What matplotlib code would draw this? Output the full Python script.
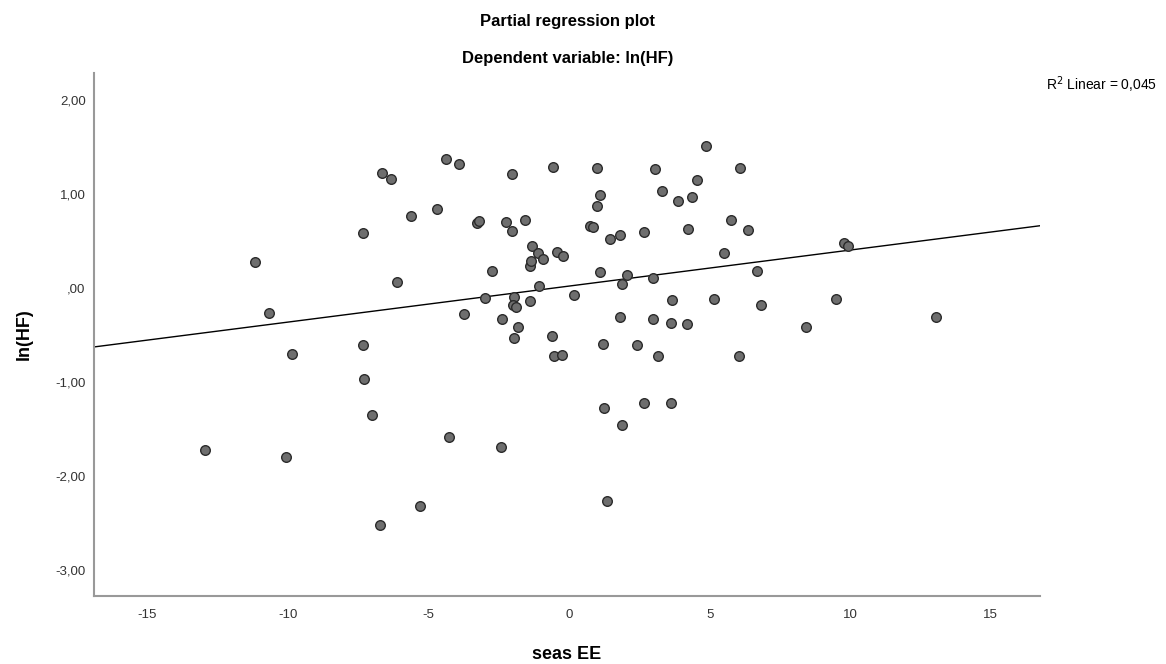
import numpy as np
import matplotlib.pyplot as plt

plt.rcParams['font.family'] = ['Liberation Sans', 'DejaVu Sans']

# partial residuals
seas_ee = [-12.94, -11.16, -10.67, -10.06, -9.85, -7.32, -7.32, -7.29, -7.00, -6.72,
           -6.65, -6.33, -6.11, -5.62, -5.30, -4.69, -4.37, -4.27, -3.91, -3.73,
           -3.27, -3.20, -2.99, -2.74, -2.42, -2.38, -2.24, -2.03, -2.03, -1.96,
           -1.99, -1.88, -1.96, -1.81, -1.56, -1.32, -1.39, -1.35, -1.39, -1.10,
           -1.07, -0.92, -0.60, -0.57, -0.53, -0.43, -0.25, -0.21, 0.18, 0.75,
           0.85, 1.00, 1.00, 1.10, 1.10, 1.21, 1.24, 1.35, 1.46, 1.81,
           1.81, 1.88, 1.88, 2.06, 2.42, 2.67, 2.67, 2.99, 2.99, 3.06,
           3.16, 3.31, 3.63, 3.66, 3.63, 3.87, 4.23, 4.19, 4.37, 4.55,
           4.87, 5.15, 5.51, 5.76, 6.08, 6.04, 6.36, 6.68, 6.83, 8.43,
           9.49, 9.78, 9.92, 13.05]
ln_hf = [-1.73, 0.28, -0.27, -1.80, -0.70, 0.59, -0.61, -0.97, -1.35, -2.52,
         1.23, 1.16, 0.06, 0.77, -2.32, 0.84, 1.37, -1.59, 1.32, -0.28,
         0.69, 0.71, -0.11, 0.18, -1.69, -0.33, 0.70, 0.61, 1.22, -0.10,
         -0.18, -0.20, -0.53, -0.41, 0.72, 0.45, 0.23, 0.29, -0.14, 0.37,
         0.02, 0.31, -0.51, 1.29, -0.72, 0.38, -0.71, 0.34, -0.07, 0.66,
         0.65, 1.28, 0.87, 0.99, 0.17, -0.60, -1.28, -2.27, 0.52, 0.56,
         -0.31, 0.04, -1.46, 0.14, -0.61, 0.60, -1.22, 0.11, -0.33, 1.27,
         -0.72, 1.03, -0.37, -0.13, -1.22, 0.93, 0.63, -0.38, 0.97, 1.15,
         1.51, -0.12, 0.37, 0.72, 1.28, -0.72, 0.62, 0.18, -0.18, -0.41,
         -0.12, 0.48, 0.45, -0.31]

x_ticks = [-15, -10, -5, 0, 5, 10, 15]
y_ticks = [2, 1, 0, -1, -2, -3]
y_tick_labels = ['2,00', '1,00', ',00', '-1,00', '-2,00', '-3,00']
r2_text = 'R$^2$ Linear = 0,045'

x = np.array(seas_ee)
y = np.array(ln_hf)
slope, intercept = np.polyfit(x, y, 1)

fig = plt.figure(figsize=(11.66, 6.64), dpi=100)
ax = fig.add_axes([0.0806, 0.1024, 0.8113, 0.7876])

xlim = (-16.9, 16.75)
ax.set_xlim(*xlim)
ax.set_ylim(-3.28, 2.29)

xs = np.array(xlim)
ax.plot(xs, intercept + slope * xs, color='black', lw=1.0, zorder=2)
ax.scatter(x, y, s=48, facecolor='#6e6e6e', edgecolor='#2b2b2b', linewidth=1.0, zorder=3)

ax.set_xticks(x_ticks)
ax.set_xticklabels([str(t) for t in x_ticks])
ax.set_yticks(y_ticks)
ax.set_yticklabels(y_tick_labels)
ax.tick_params(length=0, labelsize=9.5, colors='#333333')
ax.tick_params(axis='x', pad=9)
ax.tick_params(axis='y', pad=6)

for side in ['top', 'right']:
    ax.spines[side].set_visible(False)
for side in ['left', 'bottom']:
    ax.spines[side].set_color('#999999')
    ax.spines[side].set_linewidth(1.5)

ax.set_xlabel('seas EE', fontsize=13, fontweight='bold', labelpad=18)
ax.set_ylabel('ln(HF)', fontsize=13, fontweight='bold', labelpad=16)

fig.text(0.487, 0.968, 'Partial regression plot', ha='center', va='center',
         fontsize=12, fontweight='bold')
fig.text(0.487, 0.912, 'Dependent variable: ln(HF)', ha='center', va='center',
         fontsize=12, fontweight='bold')
fig.text(0.992, 0.872, r2_text, ha='right', va='center', fontsize=10)

fig.savefig('out.png', dpi=100)
